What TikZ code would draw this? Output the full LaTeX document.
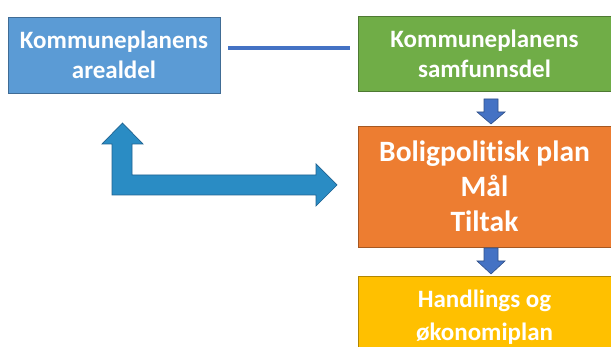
\documentclass[tikz,border=0pt]{standalone}
\usepackage{fontspec}
\setmainfont{Carlito}[Ligatures=NoCommon]
\usetikzlibrary{calc}
\definecolor{cblue}{HTML}{5B9BD5}
\definecolor{cgreen}{HTML}{70AD47}
\definecolor{corange}{HTML}{ED7D31}
\definecolor{cyellow}{HTML}{FFC000}
\definecolor{clink}{HTML}{4472C4}
\definecolor{cbig}{HTML}{2A8CC4}
\definecolor{cbigdraw}{HTML}{1F6391}
\tikzset{
  box/.style={draw=#1!70!black, fill=#1, line width=0.8pt, text=white, font=\bfseries, align=center, inner sep=0pt},
  smallarrow/.style={fill=clink, draw=clink!70!black, line width=0.6pt},
  bigarrow/.style={fill=cbig, draw=cbigdraw, line width=0.7pt},
  link/.style={draw=clink, line width=4.5pt}
}
\begin{document}
\begin{tikzpicture}[x=1pt,y=-1pt]
\useasboundingbox (0,0) rectangle (611,347);
\clip (0,0) rectangle (611,347);
\node[box=cblue, minimum width=212pt, minimum height=76pt, font=\bfseries\fontsize{25}{30}\selectfont] (areal) at (114,55) {Kommuneplanens\\arealdel};
\node[box=cgreen, minimum width=253pt, minimum height=75pt, font=\bfseries\fontsize{25}{30}\selectfont] (samf) at (484.5,54) {Kommuneplanens\\samfunnsdel};
\node[box=corange, minimum width=253pt, minimum height=121pt, font=\bfseries\fontsize{29.5}{35}\selectfont] (bolig) at (484.5,186.5) {Boligpolitisk plan\\Mål\\Tiltak};
\node[box=cyellow, minimum width=253pt, minimum height=82pt, font=\bfseries\fontsize{25}{33}\selectfont] (handl) at (484.5,317) {Handlings og\\økonomiplan};
\draw[link] ([xshift=8pt,yshift=7pt]areal.east) -- ([xshift=-8pt,yshift=6pt]samf.west);
% small arrows
\draw[smallarrow] (484,99) -- (484,112) -- (477,112) -- (491,124) -- (505,112) -- (498,112) -- (498,99) -- cycle;
\draw[smallarrow] (484,248) -- (484,261) -- (477,261) -- (491,274) -- (505,261) -- (498,261) -- (498,248) -- cycle;
% big L arrow
\draw[bigarrow] (112,195) -- (112,144) -- (102,144) -- (122.5,123) -- (143,144) -- (132,144) -- (132,175) -- (316,175) -- (316,164) -- (337,185) -- (316,206) -- (316,195) -- cycle;
\end{tikzpicture}
\end{document}
